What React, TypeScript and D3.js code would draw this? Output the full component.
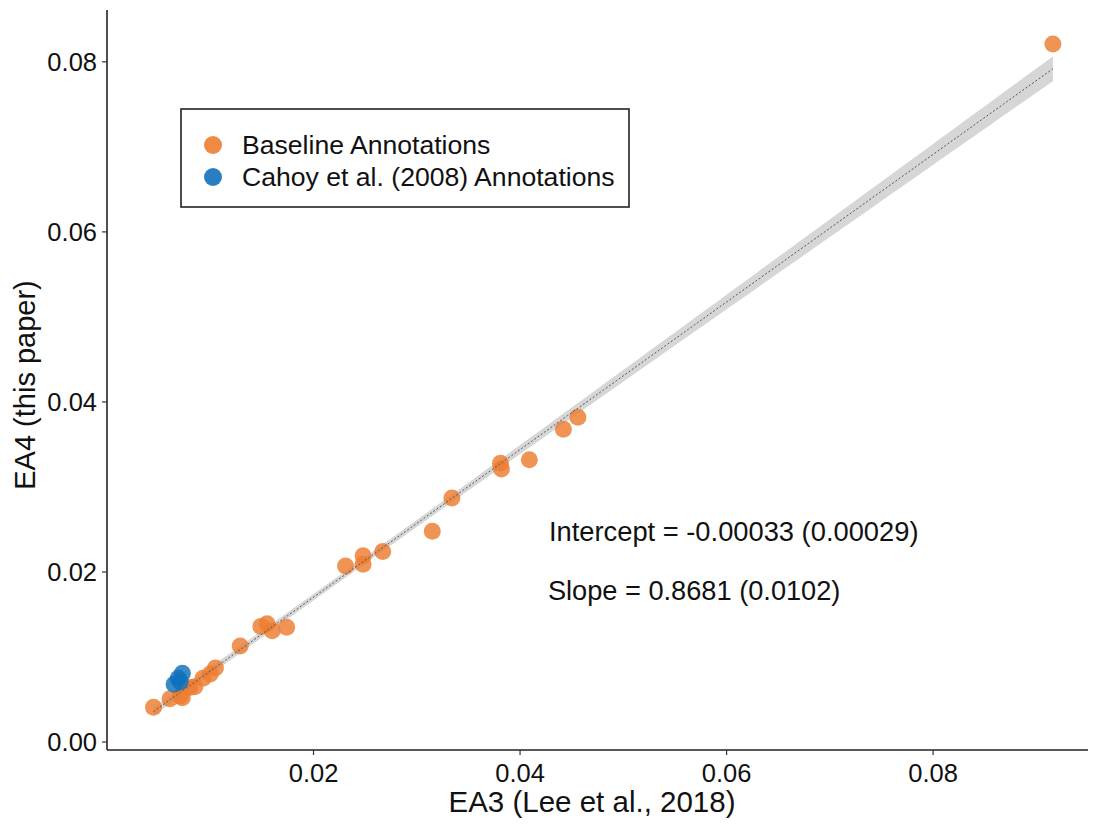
import React from "react";
import * as d3 from "d3";

const baselineX = [0.0916, 0.0456, 0.0442, 0.0409, 0.0381, 0.0382, 0.0334, 0.0315, 0.0267, 0.0248, 0.0248, 0.0231, 0.0174, 0.0160, 0.0155, 0.0149, 0.0129, 0.0105, 0.0100, 0.0093, 0.0085, 0.0080, 0.0073, 0.0071, 0.0061, 0.0045];
const baselineY = [0.0821, 0.0382, 0.0368, 0.0332, 0.0328, 0.0321, 0.0287, 0.0248, 0.0224, 0.0219, 0.0209, 0.0207, 0.0135, 0.0131, 0.0139, 0.0136, 0.0113, 0.0087, 0.0080, 0.0075, 0.0065, 0.0064, 0.0052, 0.0054, 0.0051, 0.0041];
const cahoyX = [0.0073, 0.0069, 0.0065, 0.0071];
const cahoyY = [0.0081, 0.0075, 0.0068, 0.0071];

const xTicks = [0.02, 0.04, 0.06, 0.08];
const yTicks = [0.0, 0.02, 0.04, 0.06, 0.08];

const intercept = -0.00033;
const seIntercept = 0.00029;
const slope = 0.8681;
const seSlope = 0.0102;

const seriesNames = ["Baseline Annotations", "Cahoy et al. (2008) Annotations"];
const seriesColors = ["#ED7D31", "#0F70BC"];

const FONT = "'Liberation Sans', Arial, Helvetica, sans-serif";

export default function App() {
  const W = 1093, H = 825;
  const x = d3.scaleLinear().domain([0, 0.095]).range([107, 1088]);
  const y = d3.scaleLinear().domain([-0.00094, 0.0861]).range([750, 10]);

  const allX = [...baselineX, ...cahoyX];
  const xbar = d3.mean(allX) as number;
  const seMean2 = Math.max(seIntercept * seIntercept - xbar * xbar * seSlope * seSlope, 0);
  const [xmin, xmax] = d3.extent(allX) as [number, number];
  const grid = d3.range(0, 101).map((i) => xmin + ((xmax - xmin) * i) / 100);
  const band = grid.map((gx) => {
    const fit = intercept + slope * gx;
    const se = Math.sqrt(seMean2 + (gx - xbar) * (gx - xbar) * seSlope * seSlope);
    return { gx, lo: fit - 1.96 * se, hi: fit + 1.96 * se, fit };
  });
  const area = d3.area<any>().x((d) => x(d.gx)).y0((d) => y(d.lo)).y1((d) => y(d.hi));
  const line = d3.line<any>().x((d) => x(d.gx)).y((d) => y(d.fit));

  const baseline = baselineX.map((v, i) => ({ x: v, y: baselineY[i] }));
  const cahoy = cahoyX.map((v, i) => ({ x: v, y: cahoyY[i] }));

  return (
    <svg width={W} height={H} style={{ display: "block", position: "absolute", left: 0, top: 0 }} fontFamily={FONT}>
      <rect x={0} y={0} width={W} height={H} fill="#fff" />
      <path d={area(band) as string} fill="#999" fillOpacity={0.4} />
      {baseline.map((d, i) => (
        <circle key={"b" + i} cx={x(d.x)} cy={y(d.y)} r={8.5} fill={seriesColors[0]} fillOpacity={0.82} />
      ))}
      {cahoy.map((d, i) => (
        <circle key={"c" + i} cx={x(d.x)} cy={y(d.y)} r={8.5} fill={seriesColors[1]} fillOpacity={0.82} />
      ))}
      <path d={line(band) as string} fill="none" stroke="#555" strokeWidth={1} strokeDasharray="2,2" />

      {/* axes */}
      <line x1={107} x2={107} y1={10} y2={750} stroke="#222" strokeWidth={1.6} />
      <line x1={107} x2={1088} y1={750} y2={750} stroke="#222" strokeWidth={1.6} />
      {yTicks.map((t) => (
        <g key={"y" + t}>
          <line x1={102} x2={107} y1={y(t)} y2={y(t)} stroke="#333" strokeWidth={1.2} />
          <text x={97} y={y(t)} dy="0.35em" textAnchor="end" fontSize={25.5} fill="#111">
            {d3.format(".2f")(t)}
          </text>
        </g>
      ))}
      {xTicks.map((t) => (
        <g key={"x" + t}>
          <line x1={x(t)} x2={x(t)} y1={750} y2={755} stroke="#333" strokeWidth={1.2} />
          <text x={x(t)} y={773} dy="0.35em" textAnchor="middle" fontSize={25.5} fill="#111">
            {d3.format(".2f")(t)}
          </text>
        </g>
      ))}
      <text x={592} y={802} dy="0.35em" textAnchor="middle" fontSize={29.5} fill="#111">
        EA3 (Lee et al., 2018)
      </text>
      <text transform={`translate(25,385) rotate(-90)`} dy="0.35em" textAnchor="middle" fontSize={29} fill="#111">
        EA4 (this paper)
      </text>

      {/* annotations */}
      <text x={x(0.0428)} y={y(0.0248)} dy="0.35em" fontSize={27.3} fill="#111">
        Intercept = -0.00033 (0.00029)
      </text>
      <text x={x(0.0427)} y={y(0.0178)} dy="0.35em" fontSize={27.2} fill="#111">
        Slope = 0.8681 (0.0102)
      </text>

      {/* legend */}
      <rect x={181} y={109} width={448} height={98} fill="#fff" stroke="#222" strokeWidth={1.6} />
      {seriesNames.map((n, i) => (
        <g key={n}>
          <circle cx={213} cy={145 + i * 32} r={9} fill={seriesColors[i]} fillOpacity={0.9} />
          <text x={242} y={145 + i * 32} dy="0.35em" fontSize={26.6} fill="#111">
            {n}
          </text>
        </g>
      ))}
    </svg>
  );
}
